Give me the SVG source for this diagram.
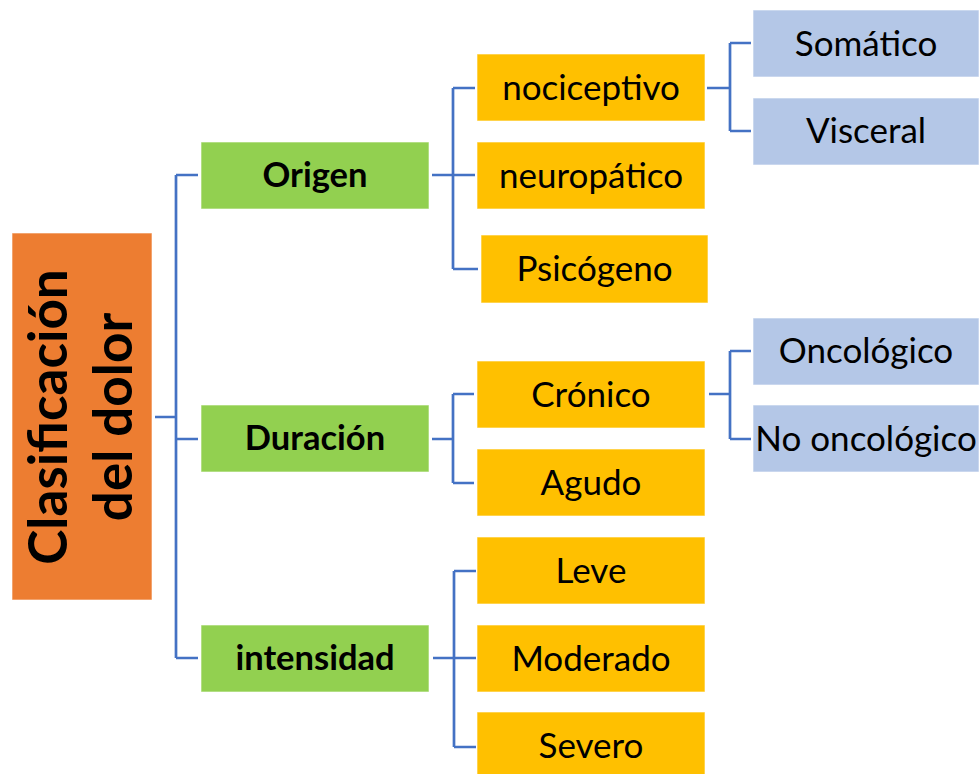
<svg xmlns="http://www.w3.org/2000/svg" width="979" height="774" viewBox="0 0 979 774">
<style>
.root{fill:#ED7D31}
.g{fill:#92D050}
.y{fill:#FFC000}
.b{fill:#B4C7E7}
.box{stroke:#ffffff;stroke-opacity:0.6;stroke-width:1}
text{font-family:Lato,"Open Sans",sans-serif;fill:#000;text-anchor:middle}
.t{font-size:35px}
.tb{font-size:34.5px;font-weight:bold}
.tr{font-size:53px;font-weight:bold}
#connectors path{fill:none;stroke:#4472C4;stroke-width:2.7}
</style>
<rect width="979" height="774" fill="#ffffff"/>
<g id="connectors">
<path d="M155,417 H176 M176,175 V658 M176,175 H198 M176,439 H198 M176,658 H198"/>
<path d="M432,175 H475 M453,88 V269 M453,88 H475 M453,269 H478"/>
<path d="M707,88 H730 M730,43 V131 M730,43 H751 M730,131 H751"/>
<path d="M432,439 H453 M453,394 V483 M453,394 H474 M453,483 H474"/>
<path d="M709,394 H730 M730,351 V439 M730,351 H751 M730,439 H751"/>
<path d="M433,658 H476 M454,571 V747 M454,571 H476 M454,747 H476"/>
</g>
<g id="n-root"><rect class="root box" x="12" y="233" width="140" height="367"/>
<text class="tr" transform="translate(67,417) rotate(-90)">Clasificación</text>
<text class="tr" transform="translate(132,417) rotate(-90)">del dolor</text></g>
<g id="n-origen"><rect class="g box" x="201" y="142" width="228" height="67"/><text class="tb" x="315" y="187">Origen</text></g>
<g id="n-duracion"><rect class="g box" x="201" y="405" width="228" height="67"/><text class="tb" x="315" y="450">Duración</text></g>
<g id="n-intensidad"><rect class="g box" x="201" y="625" width="228" height="67"/><text class="tb" x="315" y="670">intensidad</text></g>
<g id="n-nociceptivo"><rect class="y box" x="477" y="54" width="228" height="67"/><text class="t" x="591" y="100">nociceptivo</text></g>
<g id="n-neuropatico"><rect class="y box" x="477" y="142" width="228" height="67"/><text class="t" x="591" y="188">neuropático</text></g>
<g id="n-psicogeno"><rect class="y box" x="481" y="235" width="227" height="68"/><text class="t" x="594.5" y="281">Psicógeno</text></g>
<g id="n-cronico"><rect class="y box" x="477" y="361" width="228" height="67"/><text class="t" x="591" y="407">Crónico</text></g>
<g id="n-agudo"><rect class="y box" x="477" y="449" width="228" height="67"/><text class="t" x="591" y="495">Agudo</text></g>
<g id="n-leve"><rect class="y box" x="477" y="537" width="228" height="67"/><text class="t" x="591" y="583">Leve</text></g>
<g id="n-moderado"><rect class="y box" x="477" y="625" width="228" height="67"/><text class="t" x="591" y="671">Moderado</text></g>
<g id="n-severo"><rect class="y box" x="477" y="712" width="228" height="67"/><text class="t" x="591" y="758">Severo</text></g>
<g id="n-somatico"><rect class="b box" x="753" y="10" width="226" height="67"/><text class="t" x="866" y="56">Somático</text></g>
<g id="n-visceral"><rect class="b box" x="753" y="98" width="226" height="67"/><text class="t" x="866" y="143">Visceral</text></g>
<g id="n-oncologico"><rect class="b box" x="753" y="318" width="226" height="67"/><text class="t" x="866" y="363">Oncológico</text></g>
<g id="n-nooncologico"><rect class="b box" x="753" y="405" width="226" height="67"/><text class="t" x="866" y="451">No oncológico</text></g>
</svg>
